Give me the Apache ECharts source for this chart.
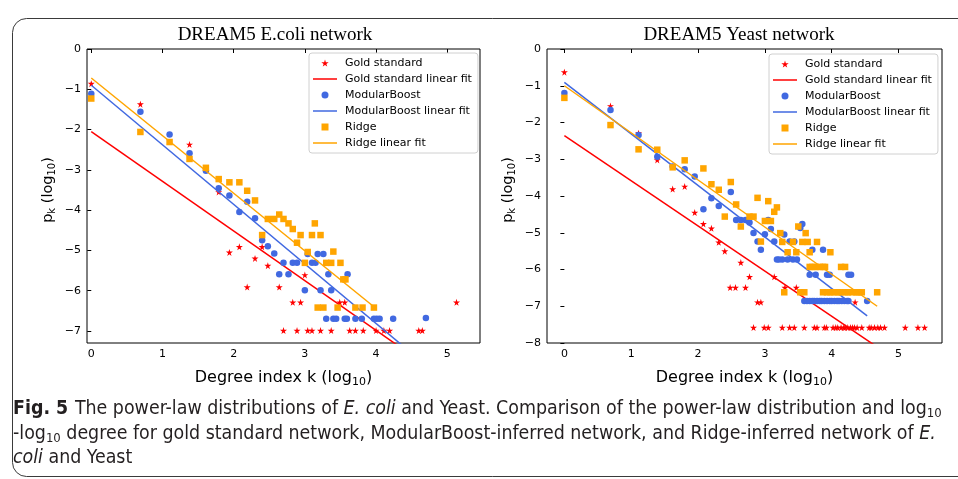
<!DOCTYPE html>
<html lang="en">
<head>
<meta charset="UTF-8">
<title>Power-law distributions</title>
<script src="https://cdn.jsdelivr.net/npm/echarts@6/dist/echarts.min.js"></script>
<style>html,body{margin:0;padding:0;background:#fff;}</style>
</head>
<body>
<div id="main" style="width:958px;height:479px;"></div>
<script>
// E. coli, points as [ln k, log10 p_k]
var ecoliGold = [[0,-0.86],[0.69,-1.37],[1.38,-2.37],[1.79,-3.55],[1.94,-5.05],[2.08,-4.91],[2.19,-5.91],[2.30,-5.20],
  [2.40,-4.91],[2.48,-5.38],[2.64,-5.91],[2.70,-6.99],[2.83,-6.29],[2.89,-6.99],[2.94,-6.29],[3.00,-5.61],[3.04,-6.99],
  [3.10,-6.99],[3.22,-6.99],[3.37,-6.99],[3.49,-6.29],[3.56,-6.29],[3.63,-6.99],[3.71,-6.99],[3.82,-6.99],[4.00,-6.99],
  [4.11,-6.99],[4.19,-6.99],[4.60,-6.99],[4.65,-6.99],[5.13,-6.29]];
var ecoliMB = [[0,-1.11],[0.69,-1.56],[1.10,-2.12],[1.38,-2.59],[1.61,-3.02],[1.79,-3.46],[1.94,-3.64],[2.08,-4.05],
  [2.19,-3.79],[2.30,-4.20],[2.40,-4.75],[2.48,-4.90],[2.57,-5.08],[2.64,-5.59],[2.70,-5.31],[2.77,-5.59],[2.83,-5.31],
  [2.89,-5.31],[3.00,-5.99],[3.04,-5.09],[3.10,-5.31],[3.15,-5.31],[3.18,-5.09],[3.22,-5.99],[3.26,-5.09],[3.30,-6.70],
  [3.33,-5.59],[3.37,-5.99],[3.40,-6.70],[3.44,-6.70],[3.56,-6.70],[3.59,-6.70],[3.60,-5.59],[3.71,-6.70],[3.80,-6.70],
  [3.97,-6.70],[4.01,-6.70],[4.05,-6.70],[4.24,-6.70],[4.70,-6.68]];
var ecoliRidge = [[0,-1.23],[0.69,-2.06],[1.10,-2.31],[1.38,-2.73],[1.61,-2.95],[1.79,-3.23],[1.94,-3.31],[2.08,-3.31],
  [2.19,-3.52],[2.30,-3.76],[2.40,-4.62],[2.48,-4.22],[2.57,-4.22],[2.64,-4.11],[2.70,-4.22],[2.77,-4.33],[2.83,-4.47],
  [2.89,-4.81],[2.94,-4.62],[3.00,-5.31],[3.04,-5.04],[3.10,-4.62],[3.14,-4.33],[3.18,-6.42],[3.22,-4.62],[3.26,-6.42],
  [3.30,-5.31],[3.37,-5.31],[3.40,-5.03],[3.46,-6.42],[3.50,-5.31],[3.54,-5.72],[3.57,-5.72],[3.71,-6.42],[3.81,-6.42],
  [3.97,-6.42]];
var ecoliGoldFit = [[0,-2.05],[5.13,-8.38]];
var ecoliMBFit = [[0,-0.90],[4.70,-7.85]];
var ecoliRidgeFit = [[0,-0.72],[3.97,-6.40]];

// Yeast
var yeastGold = [[0,-0.63],[0.69,-1.55],[1.11,-2.29],[1.39,-3.02],[1.62,-3.81],[1.80,-3.74],[1.95,-4.45],[2.08,-4.76],
  [2.20,-4.88],[2.31,-5.26],[2.40,-5.50],[2.48,-6.49],[2.56,-6.49],[2.64,-5.81],[2.71,-6.49],[2.77,-6.20],[2.89,-6.89],
  [2.94,-6.89],[3.14,-6.20],[3.30,-6.49],[3.47,-6.49],[4.35,-6.89],
  [2.83,-7.58],[2.99,-7.58],[3.05,-7.58],[3.26,-7.58],[3.37,-7.58],[3.44,-7.58],[3.59,-7.58],[3.74,-7.58],[3.78,-7.58],
  [3.89,-7.58],[3.92,-7.58],[4.02,-7.58],[4.06,-7.58],[4.09,-7.58],[4.14,-7.58],[4.18,-7.58],[4.20,-7.58],[4.24,-7.58],
  [4.28,-7.58],[4.31,-7.58],[4.34,-7.58],[4.38,-7.58],[4.45,-7.58],[4.56,-7.58],[4.59,-7.58],[4.64,-7.58],[4.69,-7.58],
  [4.73,-7.58],[4.79,-7.58],[5.10,-7.58],[5.29,-7.58],[5.39,-7.58]];
var yeastMB = [[0,-1.20],[0.69,-1.66],[1.11,-2.34],[1.39,-2.93],[1.62,-3.20],[1.80,-3.27],[1.95,-3.47],[2.08,-4.36],
  [2.20,-4.06],[2.31,-4.27],[2.49,-3.89],[2.57,-4.65],[2.64,-4.65],[2.71,-4.65],[2.77,-4.72],[2.83,-5.01],[2.89,-5.24],
  [2.94,-5.46],[3.00,-5.04],[3.05,-4.65],[3.09,-4.90],[3.14,-5.24],[3.18,-5.73],[3.21,-5.73],[3.26,-5.73],[3.29,-5.05],
  [3.34,-5.73],[3.37,-5.24],[3.42,-5.73],[3.44,-5.24],[3.48,-5.73],[3.53,-4.87],[3.56,-4.76],[3.67,-6.14],[3.71,-5.46],
  [3.76,-6.14],[3.87,-5.46],[3.93,-6.14],[3.97,-6.14],[4.25,-6.14],[4.29,-6.14],
  [3.59,-6.86],[3.63,-6.86],[3.67,-6.86],[3.71,-6.86],[3.74,-6.86],[3.78,-6.86],[3.82,-6.86],[3.85,-6.86],[3.89,-6.86],
  [3.93,-6.86],[3.97,-6.86],[4.00,-6.86],[4.04,-6.86],[4.08,-6.86],[4.11,-6.86],[4.15,-6.86],[4.19,-6.86],[4.23,-6.86],
  [4.25,-6.86],[4.53,-6.86]];
var yeastRidge = [[0,-1.33],[0.69,-2.07],[1.11,-2.73],[1.39,-2.74],[1.62,-3.22],[1.80,-3.03],[2.08,-3.25],[2.20,-3.68],
  [2.31,-3.83],[2.40,-4.56],[2.49,-3.62],[2.57,-4.23],[2.64,-4.83],[2.77,-4.56],[2.83,-4.56],[2.89,-4.05],[2.94,-5.24],
  [3.00,-4.68],[3.05,-4.14],[3.09,-4.68],[3.14,-4.43],[3.18,-4.31],[3.23,-5.01],[3.26,-5.25],[3.34,-5.53],[3.42,-5.25],
  [3.47,-5.53],[3.50,-4.83],[3.56,-5.25],[3.61,-5.01],[3.64,-5.25],[3.67,-5.53],[3.78,-5.25],[3.98,-5.53],
  [3.67,-5.93],[3.71,-5.93],[3.76,-5.93],[3.82,-5.93],[3.87,-5.93],[3.90,-5.93],[4.14,-5.93],[4.20,-5.93],
  [3.29,-6.62],[3.53,-6.62],[3.59,-6.62],[3.87,-6.62],[3.93,-6.62],[3.98,-6.62],[4.03,-6.62],[4.09,-6.62],[4.13,-6.62],
  [4.20,-6.62],[4.24,-6.62],[4.30,-6.62],[4.37,-6.62],[4.40,-6.62],[4.45,-6.62],[4.68,-6.62]];
var yeastGoldFit = [[0,-2.36],[5.39,-8.98]];
var yeastMBFit = [[0,-0.91],[4.53,-7.26]];
var yeastRidgeFit = [[0,-1.00],[4.68,-7.00]];

var xTicks = [0, 1, 2, 3, 4, 5];
var ecoliYTicks = [-7, -6, -5, -4, -3, -2, -1, 0];
var yeastYTicks = [-8, -7, -6, -5, -4, -3, -2, -1, 0];

var titles = ['DREAM5 E.coli network', 'DREAM5 Yeast network'];
var names = ['Gold standard', 'Gold standard linear fit', 'ModularBoost', 'ModularBoost linear fit', 'Ridge', 'Ridge linear fit'];

var RED = '#ff0000', BLUE = '#4169e1', ORANGE = '#ffa500';
var STAR = 'path://M50,0 L61,35 L98,35 L68,57 L79,91 L50,70 L21,91 L32,57 L2,35 L39,35 Z';
var SQUARE = 'path://M0,0 L10,0 L10,10 L0,10 Z';
var DASH = 'path://M0,0 L24,0 L24,1.5 L0,1.5 Z';
var SANS = 'DejaVu Sans';

var myChart = echarts.init(document.getElementById('main'), null, {renderer: 'canvas'});

function minus(v) { return String(v).replace('-', '\u2212'); }

function nameRich(size) {
  return {a: {fontFamily: SANS, fontSize: size, color: '#000'},
    b: {fontFamily: SANS, fontSize: Math.round(size * 0.7), color: '#000', padding: [Math.round(size * 0.55), 0, 0, 0]}};
}

var tickLabel = {formatter: minus, hideOverlap: false, showMinLabel: true, showMaxLabel: true,
  fontFamily: SANS, fontSize: 11, color: '#000', margin: 6};

function xAxis(idx, min, max) {
  return {
    type: 'value', gridIndex: idx, min: min, max: max,
    name: '{a|Degree index k (log}{b|10}{a|)}', nameLocation: 'middle', nameGap: 25,
    nameTextStyle: {rich: nameRich(16)},
    axisLine: {show: false},
    axisTick: {customValues: xTicks, length: 4, lineStyle: {color: '#000'}},
    axisLabel: Object.assign({customValues: xTicks}, tickLabel),
    splitLine: {show: false}
  };
}

function yAxis(idx, min, ticks) {
  return {
    type: 'value', gridIndex: idx, min: min, max: 0, position: 'left',
    name: '{a|p}{b|k}{a| (log}{b|10}{a|)}', nameLocation: 'middle', nameGap: 30, nameRotate: 90,
    nameMoveOverlap: false,
    nameTextStyle: {rich: nameRich(14.5), padding: [0, 0, 0, 12]},
    axisLine: {show: false},
    axisTick: {customValues: ticks, length: 4, lineStyle: {color: '#000'}},
    axisLabel: Object.assign({customValues: ticks}, tickLabel),
    splitLine: {show: false}
  };
}

function fitLine(idx, name, data, color, z) {
  return {name: name, type: 'line', xAxisIndex: idx, yAxisIndex: idx, data: data, symbol: 'none',
    showSymbol: false, clip: true, z: z, lineStyle: {color: color, width: 1.5}, itemStyle: {color: color}};
}

function points(idx, name, data, color, symbol, size, z) {
  return {name: name, type: 'scatter', xAxisIndex: idx, yAxisIndex: idx, data: data, symbol: symbol,
    symbolSize: size, z: z, itemStyle: {color: color, opacity: 1}};
}

function makeSeries(idx, gold, goldFit, mb, mbFit, ridge, ridgeFit) {
  return [
    points(idx, names[0], gold, RED, STAR, 7, 2),
    fitLine(idx, names[1], goldFit, RED, 3),
    points(idx, names[2], mb, BLUE, 'circle', 6.5, 4),
    fitLine(idx, names[3], mbFit, BLUE, 5),
    points(idx, names[4], ridge, ORANGE, SQUARE, 6.5, 6),
    fitLine(idx, names[5], ridgeFit, ORANGE, 7)
  ];
}

function legend(left, top) {
  return {
    orient: 'vertical', left: left, top: top, itemWidth: 24, itemHeight: 7, itemGap: 2,
    padding: [3, 6, 3, 4], backgroundColor: '#fff', borderColor: '#d0d0d0', borderWidth: 1, borderRadius: 3,
    textStyle: {fontFamily: SANS, fontSize: 11, color: '#000', lineHeight: 14, padding: [0, 0, 0, 3]},
    selectedMode: false,
    data: [
      {name: names[0], icon: STAR}, {name: names[1], icon: DASH},
      {name: names[2], icon: 'circle'}, {name: names[3], icon: DASH},
      {name: names[4], icon: SQUARE}, {name: names[5], icon: DASH}
    ]
  };
}

var caption = [
  '{b|Fig. 5}  {n|The power-law distributions of }{i|E. coli}{n| and Yeast. Comparison of the power-law distribution and log}{s|10}',
  '{n|-log}{s|10}{n| degree for gold standard network, ModularBoost-inferred network, and Ridge-inferred network of }{i|E.}',
  '{i|coli}{n| and Yeast}'
];
var CAP = '"Liberation Sans Narrow", "DejaVu Sans Condensed", sans-serif';
var capRich = {
  n: {fontFamily: CAP, fontSize: 19.4, fill: '#231f20'},
  i: {fontFamily: CAP, fontSize: 19.4, fontStyle: 'italic', fill: '#231f20'},
  b: {fontFamily: CAP, fontSize: 19.4, fontWeight: 'bold', fill: '#231f20'},
  s: {fontFamily: CAP, fontSize: 13, fill: '#231f20', padding: [10, 0, 0, 0]}
};

var option = {
  animation: false,
  backgroundColor: '#fff',
  title: [
    {text: titles[0], left: 270, top: 21, textAlign: 'center',
      textStyle: {fontFamily: 'Liberation Serif', fontSize: 19, fontWeight: 'normal', color: '#000'}},
    {text: titles[1], left: 734, top: 21, textAlign: 'center',
      textStyle: {fontFamily: 'Liberation Serif', fontSize: 19, fontWeight: 'normal', color: '#000'}}
  ],
  legend: [legend(309, 53), legend(769, 54)],
  grid: [
    {left: 87, top: 49, width: 393, height: 294, show: true, borderColor: '#000', borderWidth: 1, backgroundColor: 'transparent'},
    {left: 547, top: 49, width: 395, height: 294, show: true, borderColor: '#000', borderWidth: 1, backgroundColor: 'transparent'}
  ],
  xAxis: [xAxis(0, -0.06, 5.46), xAxis(1, -0.26, 5.65)],
  yAxis: [yAxis(0, -7.3, ecoliYTicks), yAxis(1, -8, yeastYTicks)],
  series: makeSeries(0, ecoliGold, ecoliGoldFit, ecoliMB, ecoliMBFit, ecoliRidge, ecoliRidgeFit)
    .concat(makeSeries(1, yeastGold, yeastGoldFit, yeastMB, yeastMBFit, yeastRidge, yeastRidgeFit)),
  graphic: [
    {type: 'rect', left: 10, top: 16, shape: {width: 1000, height: 458, r: 14}, silent: true, z: -1,
      style: {fill: 'none', stroke: '#3a3a3a', lineWidth: 1}},
    {type: 'text', left: 13, top: 399, style: {text: caption[0], rich: capRich}},
    {type: 'text', left: 13, top: 424, style: {text: caption[1], rich: capRich}},
    {type: 'text', left: 13, top: 448, style: {text: caption[2], rich: capRich}}
  ]
};
myChart.setOption(option);
</script>
</body>
</html>
